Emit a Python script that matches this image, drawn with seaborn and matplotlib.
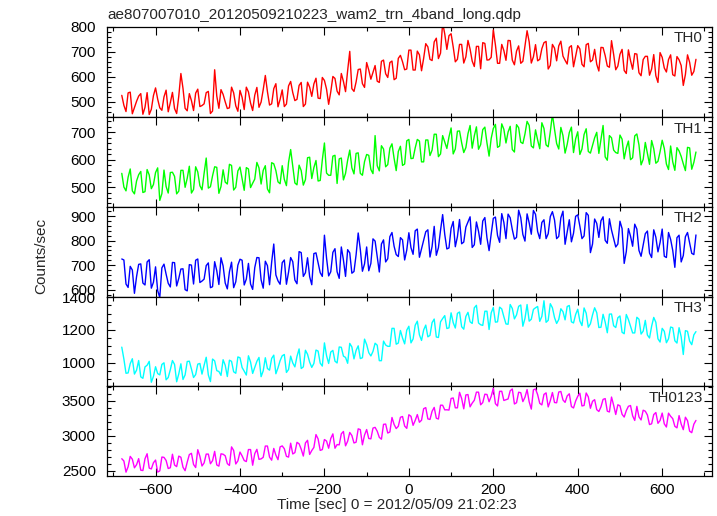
import numpy as np
import pandas as pd
import seaborn as sns
import matplotlib
matplotlib.use("Agg")
import matplotlib.pyplot as plt
from matplotlib.ticker import MultipleLocator

# 5 s time bins, seconds from 2012/05/09 21:02:23
# values on the even 10 s grid (-680 ... 680) and on the bins in between (-675 ... 675)
time_grid = np.arange(-680, 681, 10)
time_mid = np.arange(-675, 676, 10)

th0 = [525, 460, 538, 476, 522, 449, 536, 469, 555, 475, 519, 459, 537, 452, 613, 473, 532, 464, 550, 484,
       536, 452, 628, 473, 529, 472, 558, 483, 545, 468, 539, 464, 557, 498, 605, 486, 552, 479, 547, 490,
       581, 504, 565, 480, 578, 521, 594, 512, 585, 489, 601, 542, 613, 540, 702, 541, 629, 572, 657, 590,
       645, 577, 667, 597, 663, 594, 686, 628, 707, 627, 703, 624, 733, 670, 740, 673, 817, 710, 773, 660,
       730, 655, 746, 663, 722, 632, 734, 668, 788, 654, 730, 666, 745, 648, 724, 662, 785, 655, 729, 670,
       737, 631, 730, 664, 743, 666, 718, 640, 725, 650, 729, 660, 710, 623, 717, 643, 745, 628, 690, 625,
       708, 630, 691, 604, 682, 606, 689, 577, 678, 619, 688, 603, 668, 565, 688, 606, 670]
th0_mid = [485, 535, 451, 501, 532, 477, 448, 524, 510, 465, 546, 496, 472, 522, 553, 463, 504, 534, 480, 491,
           541, 462, 523, 548, 499, 475, 535, 461, 517, 558, 494, 526, 477, 548, 540, 491, 572, 509, 480, 563,
           536, 509, 577, 490, 558, 571, 514, 597, 550, 539, 593, 527, 581, 625, 552, 579, 631, 557, 627, 617,
           582, 662, 612, 657, 588, 674, 660, 631, 707, 627, 688, 674, 720, 665, 755, 695, 772, 765, 720, 670,
           730, 680, 711, 641, 722, 737, 667, 678, 728, 654, 705, 746, 667, 703, 654, 725, 740, 680, 664, 713,
           742, 646, 715, 724, 683, 651, 725, 683, 712, 640, 734, 667, 650, 718, 685, 638, 690, 643, 710, 613,
           665, 693, 616, 669, 682, 631, 604, 697, 635, 669, 608, 681, 645, 609, 658, 621]

th1 = [550, 486, 566, 475, 545, 480, 564, 494, 553, 451, 562, 478, 554, 475, 561, 499, 576, 491, 555, 490,
       606, 501, 574, 477, 563, 511, 579, 499, 573, 488, 566, 514, 590, 511, 578, 479, 585, 519, 578, 505,
       637, 515, 580, 507, 607, 531, 597, 524, 661, 543, 613, 513, 606, 550, 635, 548, 625, 543, 619, 564,
       688, 559, 639, 582, 658, 560, 649, 584, 674, 605, 674, 592, 672, 615, 693, 611, 688, 641, 716, 639,
       705, 626, 695, 642, 720, 655, 719, 613, 714, 645, 731, 661, 722, 628, 717, 659, 740, 650, 709, 640,
       714, 647, 766, 659, 718, 624, 699, 626, 702, 639, 713, 624, 680, 623, 725, 598, 680, 626, 690, 603,
       668, 607, 694, 581, 663, 583, 640, 594, 671, 584, 650, 561, 632, 585, 645, 565, 628]
th1_mid = [500, 536, 486, 522, 557, 483, 544, 509, 570, 476, 502, 553, 539, 485, 561, 532, 478, 574, 505, 550,
           496, 541, 572, 502, 518, 583, 489, 559, 530, 571, 498, 529, 570, 561, 493, 589, 560, 512, 528, 590,
           577, 508, 560, 527, 609, 571, 522, 599, 551, 543, 616, 603, 526, 598, 570, 623, 550, 593, 616, 549,
           578, 651, 574, 642, 605, 630, 579, 669, 604, 643, 668, 592, 672, 635, 693, 621, 665, 683, 621, 704,
           662, 644, 725, 687, 638, 710, 661, 678, 729, 650, 711, 701, 637, 728, 664, 694, 725, 643, 672, 735,
           654, 702, 711, 639, 688, 656, 719, 676, 619, 692, 630, 652, 700, 673, 610, 688, 635, 623, 675, 643,
           600, 687, 654, 601, 623, 670, 587, 629, 641, 564, 592, 644, 612, 560, 643, 590]

th2 = [725, 623, 695, 585, 703, 627, 713, 606, 693, 568, 704, 626, 711, 615, 684, 600, 702, 623, 725, 635,
       698, 608, 714, 621, 697, 603, 712, 632, 724, 619, 707, 601, 731, 640, 716, 620, 786, 636, 710, 622,
       731, 639, 755, 654, 730, 620, 750, 669, 822, 656, 752, 673, 774, 654, 750, 674, 831, 675, 774, 707,
       798, 672, 803, 726, 833, 743, 812, 721, 832, 744, 847, 767, 836, 733, 858, 771, 906, 766, 850, 775,
       886, 794, 876, 772, 876, 785, 894, 759, 891, 821, 910, 808, 893, 806, 924, 825, 909, 826, 907, 808,
       885, 828, 918, 808, 893, 785, 885, 830, 905, 808, 914, 751, 888, 813, 897, 789, 843, 774, 879, 707,
       849, 777, 847, 736, 828, 749, 844, 754, 847, 731, 805, 691, 822, 739, 833, 748, 823]
th2_mid = [721, 609, 680, 653, 705, 619, 722, 630, 596, 689, 663, 611, 710, 646, 685, 595, 700, 720, 629, 643,
           709, 612, 677, 730, 627, 673, 608, 700, 720, 643, 623, 690, 730, 606, 698, 712, 660, 622, 721, 671,
           714, 624, 751, 669, 653, 747, 710, 654, 729, 673, 767, 646, 721, 763, 667, 742, 764, 705, 677, 807,
           735, 786, 713, 816, 777, 735, 803, 761, 771, 840, 732, 802, 844, 776, 740, 842, 825, 770, 878, 816,
           787, 855, 897, 783, 838, 880, 811, 827, 896, 793, 874, 908, 845, 813, 894, 798, 872, 923, 837, 874,
           808, 898, 884, 817, 920, 834, 795, 899, 859, 819, 903, 786, 870, 881, 801, 889, 808, 786, 849, 755,
           818, 867, 760, 783, 839, 731, 814, 792, 736, 833, 760, 812, 713, 816, 790, 743]

th3 = [1095, 935, 994, 930, 1013, 904, 984, 880, 975, 925, 999, 909, 1013, 883, 993, 925, 1009, 909, 991, 930,
       1033, 884, 1011, 946, 1018, 915, 1008, 935, 1030, 948, 1042, 934, 1008, 914, 1030, 954, 1046, 968, 1042, 940,
       1040, 974, 1084, 974, 1051, 971, 1077, 997, 1121, 995, 1075, 998, 1094, 1032, 1118, 1023, 1103, 1030, 1111, 1041,
       1119, 1012, 1132, 1100, 1210, 1113, 1197, 1115, 1223, 1145, 1254, 1136, 1230, 1167, 1267, 1154, 1270, 1209, 1305, 1212,
       1310, 1205, 1308, 1240, 1351, 1232, 1315, 1203, 1338, 1250, 1329, 1237, 1356, 1268, 1345, 1223, 1356, 1266, 1336, 1253,
       1379, 1259, 1336, 1240, 1330, 1262, 1350, 1243, 1327, 1227, 1303, 1238, 1336, 1215, 1296, 1183, 1298, 1215, 1286, 1177,
       1264, 1182, 1278, 1175, 1259, 1151, 1277, 1146, 1210, 1122, 1218, 1134, 1214, 1050, 1192, 1110, 1190]
th3_mid = [1022, 937, 1024, 954, 913, 974, 1008, 916, 933, 989, 895, 957, 989, 931, 897, 1007, 961, 927, 995, 984,
           925, 1022, 951, 922, 984, 1015, 944, 1035, 970, 924, 1004, 970, 1032, 950, 964, 1026, 932, 1012, 1050, 958,
           998, 1038, 964, 1076, 1003, 995, 1071, 979, 1043, 1065, 1009, 1096, 1040, 996, 1096, 1075, 1025, 1144, 1061, 1069,
           1107, 1012, 1108, 1100, 1210, 1120, 1151, 1199, 1121, 1229, 1170, 1200, 1158, 1245, 1157, 1250, 1288, 1213, 1245, 1302,
           1220, 1283, 1250, 1336, 1243, 1228, 1315, 1305, 1248, 1340, 1281, 1235, 1332, 1292, 1353, 1271, 1254, 1326, 1344, 1283,
           1247, 1361, 1276, 1264, 1312, 1344, 1250, 1295, 1255, 1335, 1217, 1292, 1306, 1217, 1248, 1297, 1226, 1275, 1186, 1295,
           1224, 1182, 1266, 1193, 1169, 1223, 1247, 1126, 1192, 1146, 1214, 1120, 1158, 1196, 1132, 1170]

th0123 = [2671, 2479, 2704, 2541, 2672, 2502, 2742, 2525, 2652, 2497, 2690, 2531, 2735, 2558, 2692, 2500, 2730, 2589, 2800, 2567,
          2737, 2599, 2776, 2565, 2735, 2601, 2840, 2596, 2766, 2645, 2802, 2578, 2805, 2669, 2852, 2694, 2818, 2657, 2854, 2705,
          2893, 2758, 2884, 2709, 2934, 2788, 3016, 2790, 2945, 2821, 3026, 2873, 3027, 2855, 3046, 2896, 3098, 2870, 3088, 2955,
          3119, 2976, 3162, 3038, 3260, 3102, 3263, 3138, 3299, 3148, 3302, 3221, 3401, 3232, 3404, 3238, 3435, 3370, 3532, 3398,
          3620, 3384, 3588, 3466, 3622, 3441, 3593, 3485, 3678, 3425, 3635, 3514, 3642, 3453, 3621, 3487, 3659, 3380, 3668, 3462,
          3590, 3411, 3617, 3470, 3632, 3476, 3599, 3396, 3563, 3425, 3610, 3392, 3515, 3346, 3519, 3350, 3552, 3303, 3427, 3266,
          3420, 3284, 3419, 3225, 3350, 3159, 3302, 3177, 3323, 3124, 3277, 3134, 3287, 3086, 3215, 3043, 3218]
th0123_mid = [2638, 2556, 2664, 2585, 2507, 2671, 2537, 2613, 2480, 2695, 2646, 2542, 2581, 2708, 2549, 2621, 2748, 2545, 2705, 2611,
              2737, 2643, 2582, 2741, 2713, 2575, 2789, 2640, 2711, 2630, 2802, 2743, 2662, 2691, 2852, 2650, 2723, 2840, 2814, 2694,
              2739, 2905, 2807, 2896, 2732, 2832, 2954, 2801, 2923, 2960, 2821, 2869, 3060, 2921, 3002, 2907, 3087, 3009, 2960, 3109,
              3064, 2950, 3166, 3053, 3161, 3135, 3274, 3105, 3277, 3218, 3192, 3386, 3240, 3349, 3250, 3436, 3369, 3366, 3539, 3398,
              3532, 3582, 3412, 3506, 3622, 3474, 3589, 3562, 3458, 3634, 3503, 3525, 3668, 3471, 3614, 3549, 3483, 3656, 3587, 3440,
              3612, 3499, 3474, 3624, 3511, 3568, 3416, 3495, 3607, 3432, 3555, 3491, 3372, 3412, 3530, 3339, 3435, 3442, 3306, 3358,
              3431, 3218, 3269, 3364, 3295, 3170, 3331, 3217, 3169, 3322, 3244, 3112, 3166, 3264, 3065, 3164]

band_names = ["TH0", "TH1", "TH2", "TH3", "TH0123"]
band_colors = ["#ff0000", "#00ff00", "#0000ff", "#00ffff", "#ff00ff"]
band_ylims = [(438, 800), (427, 756), (570, 937), (857, 1402), (2424, 3710)]
band_major = [100, 100, 100, 200, 500]
band_minor = [20, 20, 20, 50, 100]

grid_df = pd.DataFrame({"time": time_grid, "TH0": th0, "TH1": th1, "TH2": th2,
                        "TH3": th3, "TH0123": th0123})
mid_df = pd.DataFrame({"time": time_mid, "TH0": th0_mid, "TH1": th1_mid, "TH2": th2_mid,
                       "TH3": th3_mid, "TH0123": th0123_mid})
df = pd.concat([grid_df, mid_df]).sort_values("time").reset_index(drop=True)

sns.set_style("ticks")
plt.rcParams["font.family"] = ["Liberation Sans", "DejaVu Sans"]
plt.rcParams["axes.linewidth"] = 0.9

W, H = 717, 516
fig = plt.figure(figsize=(W / 100, H / 100), dpi=100)

# panel edges in pixels (top, bottom)
edges = [(27, 117), (117, 207), (207, 297), (297, 386), (386, 476)]
left_px, right_px = 107, 712

for i, name in enumerate(band_names):
    top, bot = edges[i]
    ax = fig.add_axes([left_px / W, 1 - bot / H, (right_px - left_px) / W, (bot - top) / H])
    sns.lineplot(data=df, x="time", y=name, ax=ax, color=band_colors[i],
                 linewidth=1.0, estimator=None)
    ax.set_xlim(-715, 718)
    ax.set_ylim(*band_ylims[i])
    ax.xaxis.set_major_locator(MultipleLocator(200))
    ax.xaxis.set_minor_locator(MultipleLocator(100))
    ax.yaxis.set_major_locator(MultipleLocator(band_major[i]))
    ax.yaxis.set_minor_locator(MultipleLocator(band_minor[i]))
    ax.tick_params(which="both", direction="in", top=True, right=True,
                   labelsize=11, colors="black", width=0.8)
    ax.tick_params(which="major", length=6)
    ax.tick_params(which="minor", length=3)
    ax.tick_params(axis="y", pad=8)
    ax.tick_params(axis="x", pad=5)
    ax.set_xlabel("")
    ax.set_ylabel("")
    if i < len(band_names) - 1:
        ax.tick_params(labelbottom=False)
    for sp in ax.spines.values():
        sp.set_color("black")
    ax.text(0.985, 0.95, name, transform=ax.transAxes, ha="right", va="top", fontsize=11)

fig.text(left_px / W, 1 - 19 / H, "ae807007010_20120509210223_wam2_trn_4band_long.qdp",
         ha="left", va="baseline", fontsize=11)
fig.text(41 / W, 1 - 256 / H, "Counts/sec", rotation=90, ha="center", va="center", fontsize=11)
fig.text(397 / W, 1 - 505 / H, "Time [sec] 0 = 2012/05/09 21:02:23",
         ha="center", va="center", fontsize=11)

fig.savefig("out.png", dpi=100)
